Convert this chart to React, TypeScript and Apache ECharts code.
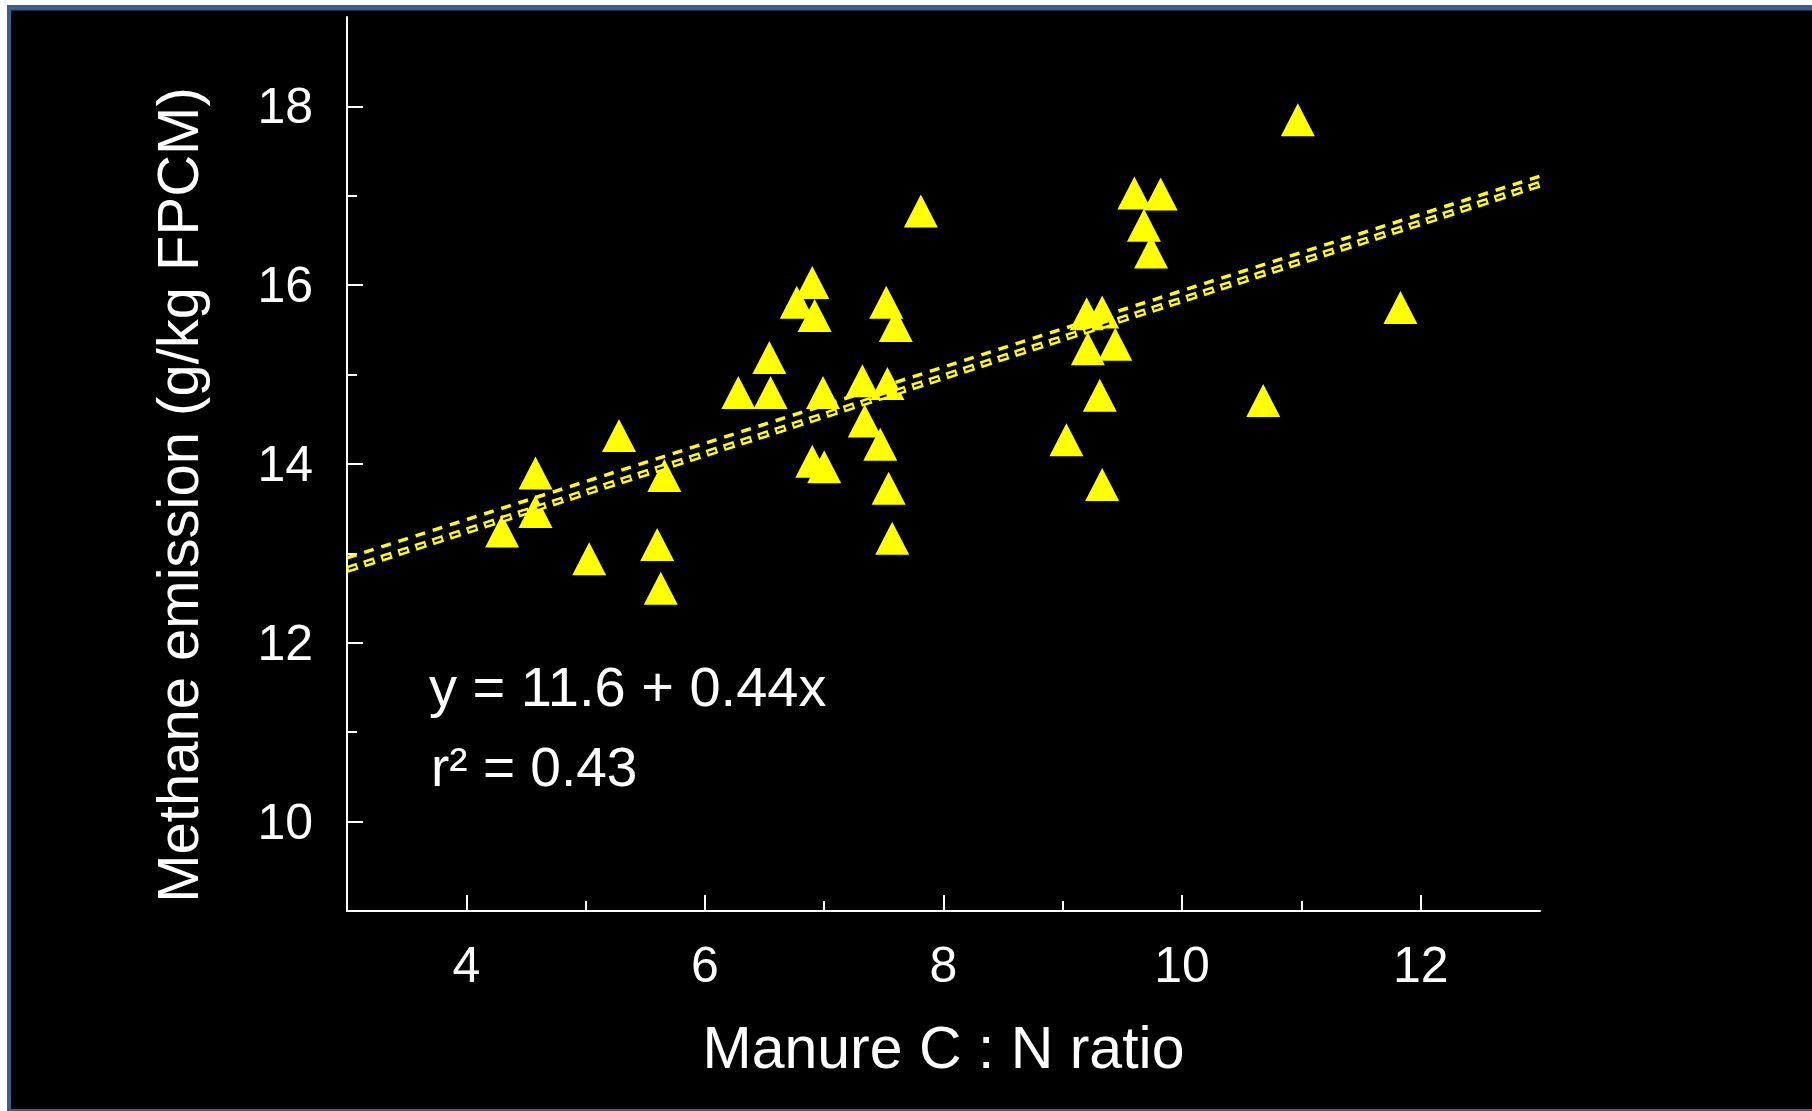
import React, { useEffect, useRef } from 'react';
import * as echarts from 'echarts';

// Manure C:N ratio (x) and methane emission, g/kg FPCM (y)
const cnRatio = [4.30, 4.58, 4.58, 5.03, 5.28, 5.60, 5.63, 5.66, 6.28, 6.54, 6.55, 6.77, 6.90, 6.92, 6.90, 6.99, 7.00, 7.32, 7.34, 7.47, 7.52, 7.60, 7.53, 7.54, 7.57, 7.81, 9.03, 9.20, 9.33, 9.21, 9.44, 9.31, 9.33, 9.60, 9.82, 9.68, 9.74, 10.68, 10.97, 11.83];
const methane = [13.25, 13.90, 13.47, 12.94, 14.32, 13.10, 12.61, 13.87, 14.80, 15.19, 14.80, 15.81, 16.03, 15.66, 14.03, 14.80, 13.97, 14.93, 14.48, 14.22, 15.81, 15.55, 14.90, 13.73, 13.17, 16.83, 14.27, 15.68, 15.70, 15.29, 15.34, 14.77, 13.77, 17.03, 17.02, 16.67, 16.37, 14.71, 17.85, 15.75];

// fitted lines
const fitX = [3, 13];
const fitUpper = [12.95, 17.22];
const fitLower = [12.82, 17.13];

// axes
const xMin = 3;
const xMax = 13;
const yMin = 9;
const yMax = 19;
const xMajorTicks = [4, 6, 8, 10, 12];
const xMinorTicks = [5, 7, 9, 11];
const yMajorTicks = [10, 12, 14, 16, 18];
const yMinorTicks = [11, 13, 15, 17];

const xTitle = 'Manure C : N ratio';
const yTitle = 'Methane emission (g/kg FPCM)';
const eqLine1 = 'y = 11.6 + 0.44x';
const eqLine2 = 'r\u00B2 = 0.43';

const FONT = '"Liberation Sans", Arial, sans-serif';
const WHITE = '#ffffff';
const YELLOW = '#ffff00';
const BLUE = '#3a5d8b';

const pts = cnRatio.map((x, i) => [x, methane[i]]);
const upperLine = fitX.map((x, i) => [x, fitUpper[i]]);
const lowerLine = fitX.map((x, i) => [x, fitLower[i]]);

const axisLineStyle = { color: WHITE, width: 2 };

const option: any = {
  animation: false,
  backgroundColor: '#000000',
  grid: { left: 347, top: 17, right: 272, bottom: 200, containLabel: false },
  xAxis: [
    {
      type: 'value',
      min: xMin,
      max: xMax,
      position: 'bottom',
      axisLine: { show: true, onZero: false, lineStyle: axisLineStyle },
      axisTick: { show: true, inside: true, length: 16, customValues: xMajorTicks, lineStyle: axisLineStyle },
      axisLabel: { show: true, customValues: xMajorTicks, color: WHITE, fontSize: 50, fontFamily: FONT, margin: 29 },
      splitLine: { show: false },
      name: xTitle,
      nameLocation: 'middle',
      nameGap: 107,
      nameTextStyle: { color: WHITE, fontSize: 59, fontFamily: FONT },
    },
    {
      type: 'value',
      min: xMin,
      max: xMax,
      position: 'bottom',
      axisLine: { show: false },
      axisTick: { show: true, inside: true, length: 10, customValues: xMinorTicks, lineStyle: axisLineStyle },
      axisLabel: { show: false },
      splitLine: { show: false },
    },
  ],
  yAxis: [
    {
      type: 'value',
      min: yMin,
      max: yMax,
      position: 'left',
      axisLine: { show: true, onZero: false, lineStyle: axisLineStyle },
      axisTick: { show: true, inside: true, length: 16, customValues: yMajorTicks, lineStyle: axisLineStyle },
      axisLabel: { show: true, customValues: yMajorTicks, color: WHITE, fontSize: 50, fontFamily: FONT, margin: 34, padding: [12, 0, 0, 0] },
      splitLine: { show: false },
    },
    {
      type: 'value',
      min: yMin,
      max: yMax,
      position: 'left',
      offset: 0,
      axisLine: { show: false },
      axisTick: { show: true, inside: true, length: 10, customValues: yMinorTicks, lineStyle: axisLineStyle },
      axisLabel: { show: false },
      splitLine: { show: false },
    },
  ],
  graphic: [
    { type: 'rect', z: 0, silent: true, shape: { x: 0, y: 0, width: 1812, height: 5 }, style: { fill: '#ffffff' } },
    { type: 'rect', z: 0, silent: true, shape: { x: 0, y: 0, width: 7, height: 1111 }, style: { fill: '#ffffff' } },
    { type: 'rect', z: 0, silent: true, shape: { x: 7, y: 5, width: 1805, height: 5 }, style: { fill: BLUE } },
    { type: 'rect', z: 0, silent: true, shape: { x: 7, y: 5, width: 4, height: 1106 }, style: { fill: BLUE } },
    { type: 'rect', z: 0, silent: true, shape: { x: 7, y: 1109, width: 1805, height: 2 }, style: { fill: BLUE } },
    { type: 'rect', z: 0, silent: true, shape: { x: 11, y: 10, width: 1801, height: 1 }, style: { fill: '#1b2a40' } },
    {
      type: 'text', z: 10, silent: true, x: 177, y: 495, rotation: Math.PI / 2,
      style: { text: yTitle, fill: WHITE, font: `58px ${FONT}`, align: 'center', verticalAlign: 'middle', textAlign: 'center', textVerticalAlign: 'middle' },
    },
    {
      type: 'text', z: 10, silent: true, x: 429, y: 686,
      style: { text: eqLine1, fill: WHITE, font: `56px ${FONT}`, align: 'left', verticalAlign: 'middle', textAlign: 'left', textVerticalAlign: 'middle' },
    },
    {
      type: 'text', z: 10, silent: true, x: 431, y: 767,
      style: { text: eqLine2, fill: WHITE, font: `55px ${FONT}`, align: 'left', verticalAlign: 'middle', textAlign: 'left', textVerticalAlign: 'middle' },
    },
  ],
  series: [
    {
      type: 'scatter',
      data: pts,
      symbol: 'triangle',
      symbolSize: [34, 33],
      itemStyle: { color: YELLOW, opacity: 1 },
      z: 3,
      silent: true,
    },
    {
      type: 'line',
      data: upperLine,
      symbol: 'none',
      showSymbol: false,
      lineStyle: { color: YELLOW, width: 3.5, type: [10, 8], opacity: 1 },
      z: 5,
      silent: true,
    },
    {
      type: 'line',
      data: lowerLine,
      symbol: 'none',
      showSymbol: false,
      lineStyle: { color: YELLOW, width: 7, type: [11, 7], opacity: 1 },
      z: 5,
      silent: true,
    },
    {
      type: 'line',
      data: lowerLine,
      symbol: 'none',
      showSymbol: false,
      lineStyle: { color: '#000000', width: 2, type: [7, 11], dashOffset: -2, opacity: 1 },
      z: 6,
      silent: true,
    },
  ],
};

export default function App() {
  const ref = useRef<HTMLDivElement>(null);
  useEffect(() => {
    if (!ref.current) return;
    const chart = echarts.init(ref.current, null, { renderer: 'svg' });
    chart.setOption(option);
    return () => chart.dispose();
  }, []);
  return <div ref={ref} style={{ position: 'fixed', left: 0, top: 0, width: 1812, height: 1111 }} />;
}
